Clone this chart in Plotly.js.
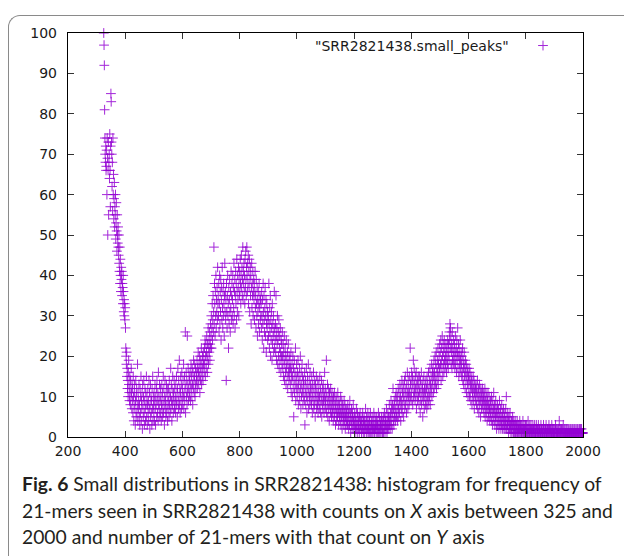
<!DOCTYPE html>
<html><head><meta charset="utf-8">
<script src="https://cdn.plot.ly/plotly-3.0.1.min.js"></script>
<style>
html,body{margin:0;padding:0;background:#fff;}
#wrap{position:relative;width:624px;height:556px;overflow:hidden;background:#fff;}
#chart{position:absolute;left:0;top:0;width:624px;height:556px;}
#frame{position:absolute;left:8px;top:15px;width:640px;height:620px;border-left:1.5px solid #8a8a8a;border-top:1.5px solid #8a8a8a;border-top-left-radius:12px;pointer-events:none;}
#caption{position:absolute;left:22px;top:471px;width:600px;font-family:Lato,"Open Sans",sans-serif;font-size:19.3px;line-height:26.5px;color:#231f20;white-space:nowrap;}
</style></head>
<body>
<div id="wrap">
<div id="chart"></div>
<div id="frame"></div>
<div id="caption"><b>Fig. 6</b> Small distributions in SRR2821438: histogram for frequency of<br>21-mers seen in SRR2821438 with counts on <i>X</i> axis between 325 and<br>2000 and number of 21-mers with that count on <i>Y</i> axis</div>
</div>
<script>
// number of 21-mers (Y) for each count value (X), one value per integer count
var startA = 325;
var countsA = [
100,97,92,81,74,70,68,72,66,67,71,60,74,69,50,66,73,55,68,70,64,75,66,57,72,
85,83,73,70,62,68,56,74,60,65,54,59,63,52,57,55,60,49,53,58,51,46,55,50,48,
52,47,45,50,43,41,47,38,44,40,36,42,39,41,35,38,37,33,40,36,31,34,30,33,29,
32,27,22,20,18,21,15,17,12,14,10,16,19,13,11,9,15,12,8,14,10,17,11,7,13,
9,12,6,15,10,4,8,13,11,7,3,9,14,5,10,12,6,8,18,4,11,7,9,13,5,
8,3,12,6,10,15,4,9,7,11,2,13,8,5,10,14,6,3,9,12,7,4,11,8,15,
5,10,3,8,12,6,9,4,14,7,11,2,8,13,5,10,6,9,3,12,7,15,4,10,8,
6,11,4,9,13,7,3,10,8,12,5,14,9,6,11,4,16,8,10,7,13,5,9,12,6,
10,4,8,13,7,11,5,9,15,6,12,8,3,10,14,7,9,5,11,13,6,8,12,4,10,
7,12,9,5,14,8,11,6,10,17,7,13,9,4,12,8,15,10,6,11,9,14,7,12,8,
10,6,13,9,15,8,11,5,12,17,9,7,14,10,19,8,12,6,11,15,9,13,7,16,10
];
var startB = 600;
var countsB = [
12,8,14,10,18,7,11,15,9,13,26,6,12,16,10,14,8,25,11,13,17,9,12,15,10,
14,11,16,9,13,18,12,15,10,17,13,8,16,12,19,14,11,15,18,10,13,17,12,16,14,
15,19,12,17,14,21,16,13,18,15,20,11,17,14,19,16,22,13,18,15,20,17,14,21,18,
19,16,22,18,24,15,20,23,17,21,25,19,16,23,20,27,18,22,24,21,26,19,23,28,22,
25,30,22,27,33,24,29,35,26,31,47,28,38,33,25,36,30,40,27,34,31,37,29,42,33,
35,30,38,26,33,40,28,36,31,39,24,34,37,29,42,32,27,36,30,38,33,25,35,43,31,
36,29,34,14,38,31,27,35,40,30,33,22,37,28,34,39,31,26,36,32,41,29,35,38,30,
34,40,28,37,32,43,30,36,39,27,35,41,33,38,29,44,36,31,40,34,37,42,30,39,35,
41,36,44,38,33,40,45,37,42,35,39,47,34,41,38,43,36,40,33,44,37,46,39,35,42,
47,40,36,43,38,45,33,41,37,44,31,39,42,35,40,28,37,43,32,38,35,41,30,36,39,
34,38,29,36,41,32,35,27,39,33,30,37,25,34,31,36,28,33,38,26,32,35,29,34,30,
33,27,36,30,24,34,28,38,31,22,35,29,26,32,37,25,30,34,21,28,33,27,31,24,29,
30,25,38,28,22,32,26,35,20,29,24,31,27,19,33,23,28,25,30,21,26,36,22,27,24,
28,21,35,25,19,27,23,30,18,24,26,20,29,17,22,25,19,27,21,16,24,20,23,18,26,
20,17,23,15,21,19,25,14,18,22,16,20,13,24,17,19,15,21,12,18,23,16,14,20,17,
15,19,13,17,21,11,16,14,18,10,15,20,12,17,5,14,19,11,16,13,22,9,15,12,18
];
var startC = 1000;
var countsC = [
14,10,16,12,19,8,13,15,11,17,9,14,20,12,7,16,10,13,18,11,15,8,12,14,10,
13,9,16,3,11,14,8,12,17,10,6,13,15,9,11,18,7,12,14,10,8,16,11,13,9,
12,8,15,10,6,13,11,9,16,7,12,14,8,10,5,13,11,9,15,7,12,10,8,14,6,
11,9,13,7,10,15,8,12,6,11,9,14,5,10,8,12,7,13,9,11,6,10,16,8,12,
9,7,11,19,6,10,8,13,5,9,12,7,10,4,11,8,9,6,12,7,10,5,8,11,6,
9,7,4,10,8,6,11,5,9,7,3,8,10,6,4,9,7,5,11,8,6,3,9,7,5,
8,4,6,10,3,7,5,9,2,6,8,4,7,5,3,9,6,4,8,2,5,7,3,6,4,
7,5,3,8,4,6,2,5,7,3,9,4,6,1,5,3,7,4,2,6,5,3,8,4,2,
5,3,6,1,4,2,5,3,7,2,4,1,6,3,5,2,4,3,1,5,2,6,3,4,2,
4,1,3,5,2,6,3,1,4,2,5,3,1,4,2,7,3,2,5,1,3,4,2,6,1,
3,2,5,1,4,2,3,6,1,2,4,3,1,5,2,3,1,4,2,6,3,1,2,5,3,
2,4,1,3,5,2,1,3,4,2,6,1,3,2,5,1,4,3,2,1,3,5,2,4,1,
3,2,5,1,4,3,6,2,1,4,3,5,2,7,3,1,4,2,6,3,5,2,4,8,3,
5,2,6,4,9,3,7,5,2,8,6,12,4,7,3,9,5,8,6,10,4,7,11,5,9,
6,10,4,8,12,7,5,11,9,6,13,8,10,4,12,7,9,14,6,11,8,13,10,5,12,
9,14,7,11,15,8,12,10,6,13,9,16,11,7,14,10,12,8,15,11,9,22,13,10,14
];
var startD = 1400;
var countsD = [
11,16,9,13,15,8,12,19,10,14,17,11,13,9,15,12,10,16,7,13,11,14,9,12,15,
10,13,8,15,11,12,6,14,9,11,16,8,13,10,12,5,14,9,11,15,7,12,10,13,8,
11,14,9,12,7,15,10,13,8,11,16,9,12,14,10,17,8,13,11,15,12,18,10,14,16,
13,17,11,15,19,12,16,14,20,13,18,15,21,12,17,14,19,16,22,13,18,15,20,17,23,
16,21,18,24,14,19,22,17,25,20,15,23,18,21,16,24,19,22,17,20,18,23,21,16,19,
22,18,24,20,17,23,21,19,26,24,28,22,27,25,18,21,23,17,26,19,22,20,24,18,21,
19,23,17,21,25,18,20,22,16,24,19,21,27,17,20,23,15,22,18,20,16,24,19,17,21,
18,15,20,16,22,14,19,17,13,18,21,15,17,12,19,16,14,18,11,15,17,13,16,10,14,
15,12,17,10,14,16,11,13,9,15,12,14,8,13,11,10,15,12,9,14,7,11,13,10,12,
9,13,11,8,12,10,14,7,11,9,12,6,10,13,8,11,9,5,12,10,7,11,9,8,12,
10,7,9,11,6,10,8,12,5,9,7,11,6,8,10,4,9,7,11,5,8,6,10,7,4,
8,6,9,5,7,10,4,8,6,3,9,5,7,11,4,6,8,3,7,5,9,4,6,2,7,
5,8,3,6,4,7,2,5,9,3,6,4,7,2,5,3,8,4,6,2,5,3,7,4,2,
5,3,6,2,4,7,3,10,2,5,4,3,6,2,4,1,5,3,2,4,6,2,3,1,4,
2,4,1,3,5,2,3,1,4,2,3,1,2,4,1,3,2,1,3,2,4,1,2,3,1,
2,3,1,2,4,1,2,3,1,2,1,3,2,1,2,4,1,2,1,3,2,1,2,1,3
];
var startE = 1800;
var countsE = [
1,2,1,3,1,2,1,2,4,1,2,1,3,1,2,1,2,1,3,2,1,2,1,2,1,
3,1,2,1,2,1,3,1,2,1,1,2,3,1,2,1,2,1,1,3,1,2,1,2,1,
2,1,1,3,1,2,1,2,1,1,2,1,3,1,2,1,1,2,1,2,1,3,1,1,2,
1,2,1,1,2,1,3,1,2,1,1,2,1,2,1,1,3,1,2,1,1,2,1,1,2,
1,1,2,1,3,1,2,1,1,2,1,1,2,1,1,2,1,4,1,2,1,1,2,1,1,
2,1,1,2,1,1,3,1,1,2,1,1,2,1,1,1,2,1,1,2,1,1,1,2,1,
1,2,1,1,1,2,1,1,2,1,1,1,2,1,1,2,1,1,1,2,1,1,2,1,1,
1,2,1,1,1,2,1,1,2,1,1,1,1,2,1,1,2,1,1,1,2,1,1,1,1,
1
];
var seriesName = '"SRR2821438.small_peaks"';
var xTicks = [200,400,600,800,1000,1200,1400,1600,1800,2000];
var yTicks = [0,10,20,30,40,50,60,70,80,90,100];

var xs = [], ys = [];
[[startA,countsA],[startB,countsB],[startC,countsC],[startD,countsD],[startE,countsE]].forEach(function(s){
  for (var i = 0; i < s[1].length; i++) { xs.push(s[0] + i); ys.push(s[1][i]); }
});

var purple = '#9400d3';
var trace = {
  x: xs, y: ys, type: 'scatter', mode: 'markers', name: ' ',
  cliponaxis: false,
  marker: {symbol: 'cross-thin', size: 7, color: purple, opacity: 0.85, line: {color: purple, width: 1}}
};
var axFont = {family: 'DejaVu Sans', size: 14, color: '#1a1a1a'};
var layout = {
  width: 624, height: 556,
  margin: {l: 68, r: 41, t: 33, b: 119, pad: 0},
  paper_bgcolor: 'rgba(0,0,0,0)', plot_bgcolor: 'rgba(0,0,0,0)',
  showlegend: true,
  legend: {x: 0.8835, y: 0.968, xanchor: 'left', yanchor: 'middle', bgcolor: 'rgba(0,0,0,0)', font: axFont},
  xaxis: {range: [200, 2000], tickmode: 'array', tickvals: xTicks, ticktext: xTicks.map(String),
    ticks: 'inside', ticklen: 6, tickwidth: 1, tickcolor: '#333', showline: true, linecolor: '#000', linewidth: 1.2,
    mirror: 'allticks', showgrid: false, zeroline: false, tickfont: axFont, ticklabelstandoff: 1},
  yaxis: {range: [0, 100], tickmode: 'array', tickvals: yTicks, ticktext: yTicks.map(String),
    ticks: 'inside', ticklen: 6, tickwidth: 1, tickcolor: '#333', showline: true, linecolor: '#000', linewidth: 1.2,
    mirror: 'allticks', showgrid: false, zeroline: false, tickfont: axFont, ticklabelstandoff: 7},
  annotations: [{xref: 'paper', yref: 'paper', x: 0.861, y: 0.968, xanchor: 'right', yanchor: 'middle',
    text: seriesName, showarrow: false, font: axFont}]
};
Plotly.newPlot('chart', [trace], layout, {displayModeBar: false, staticPlot: true});
</script>
</body></html>
